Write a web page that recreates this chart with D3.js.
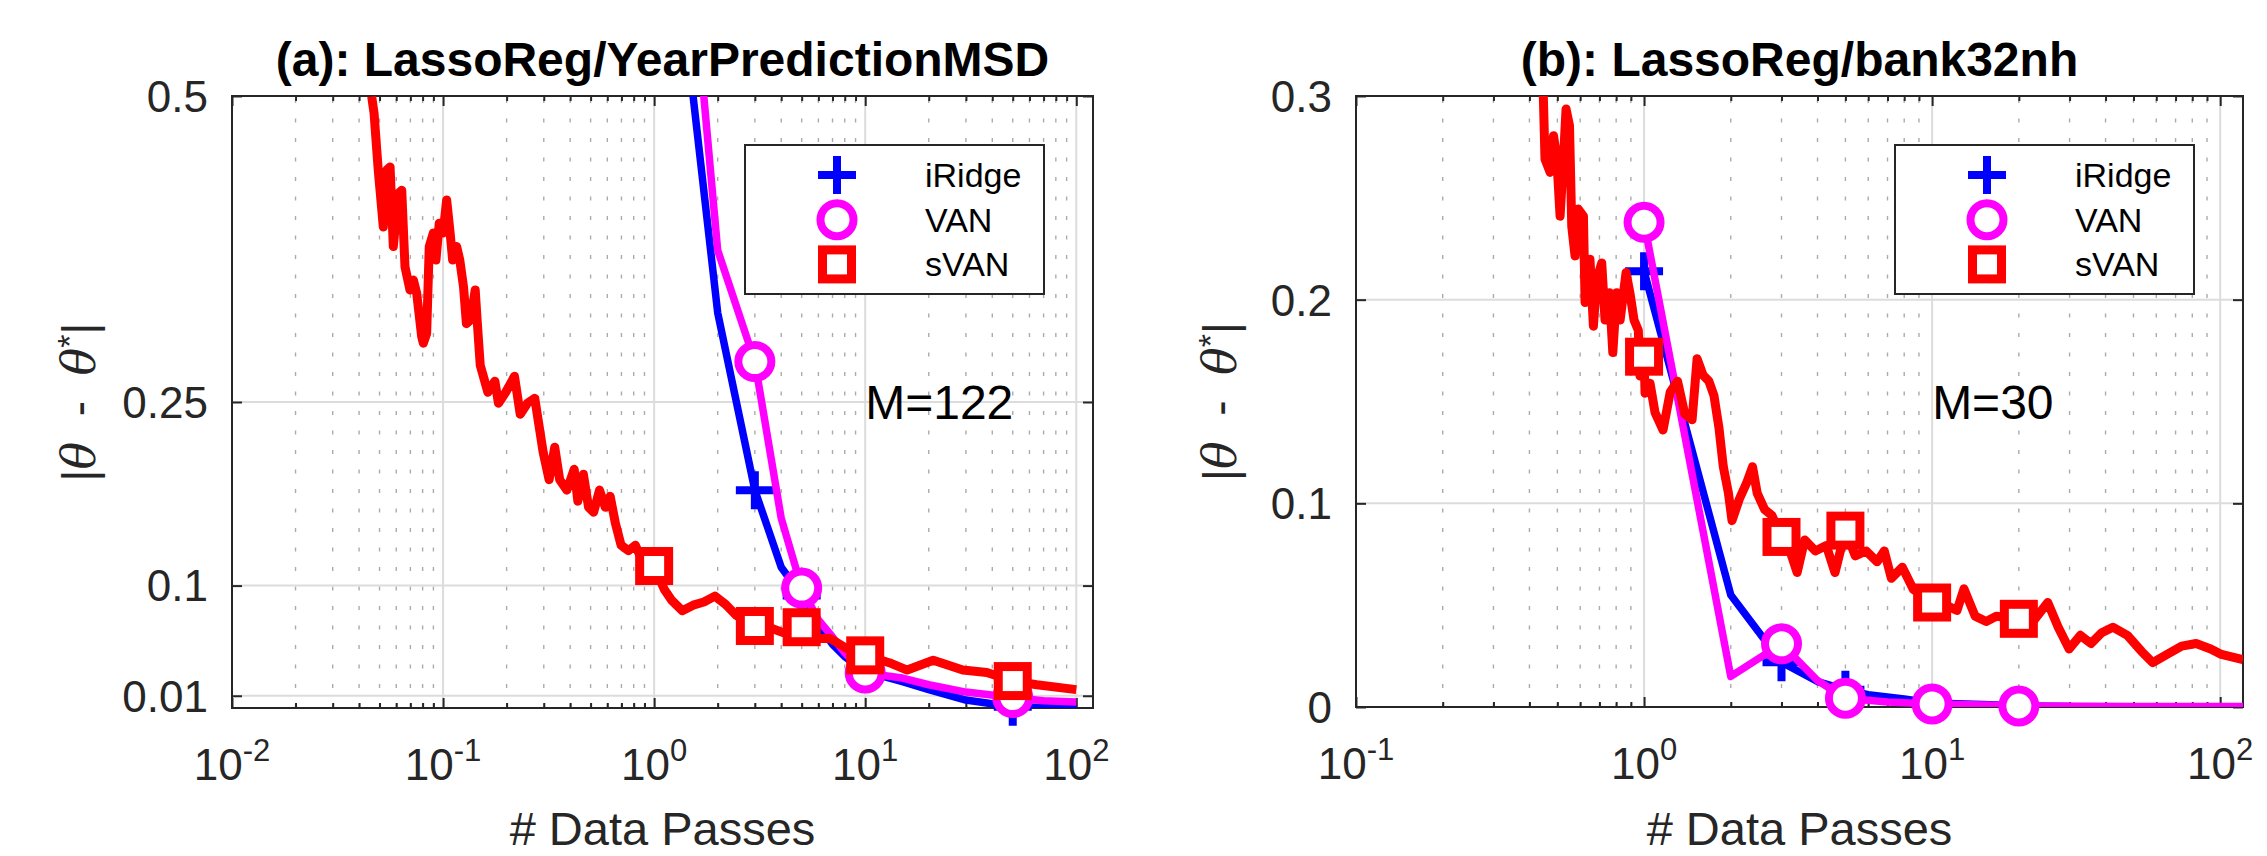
<!DOCTYPE html>
<html>
<head>
<meta charset="utf-8">
<script src="https://cdn.jsdelivr.net/npm/d3@7"></script>
<style>
  body { margin: 0; background: #fff; }
  text { font-family: "Liberation Sans", Arial, Helvetica, sans-serif; }
</style>
</head>
<body>
<script>
// ---------- data: (a) LassoReg/YearPredictionMSD ----------
const passRidgeA = [1, 2, 3, 4, 5, 6, 7, 8, 10, 15, 20, 30, 50, 70, 100];
const errRidgeA  = [0.78, 0.323, 0.178, 0.115, 0.092, 0.068, 0.052, 0.042, 0.03, 0.0215, 0.015, 0.0065, 0.001, 0.0005, 0.0];
const passVanA = [1, 2, 3, 4, 5, 6, 7, 8, 10, 15, 20, 30, 50, 70, 100];
const errVanA  = [0.95, 0.374, 0.283, 0.155, 0.098, 0.072, 0.058, 0.045, 0.0286, 0.0245, 0.019, 0.013, 0.0085, 0.006, 0.005];
const passSvanA = [0.0459, 0.0471, 0.0485, 0.0493, 0.0521, 0.054, 0.0561, 0.0581, 0.0614, 0.0637,
  0.066, 0.0697, 0.0723, 0.075, 0.0792, 0.0806, 0.0836, 0.086, 0.0899, 0.0925,
  0.0959, 0.1, 0.104, 0.108, 0.111, 0.116, 0.12, 0.125, 0.129, 0.135,
  0.142, 0.145, 0.15, 0.163, 0.176, 0.183, 0.198, 0.218, 0.232, 0.251,
  0.272, 0.282, 0.298, 0.318, 0.338, 0.357, 0.386, 0.418, 0.435, 0.462,
  0.489, 0.517, 0.551, 0.587, 0.619, 0.655, 0.697, 0.755, 0.815, 0.882,
  1, 1.116, 1.21, 1.36, 1.53, 1.72, 1.94, 2.18, 2.45, 3,
  3.49, 4.08, 5, 5.82, 6.81, 8.28, 10, 13, 15.8, 21,
  29, 37.7, 50, 65, 100];
const errSvanA = [0.4995, 0.486, 0.456, 0.4395, 0.393, 0.4395, 0.442, 0.377, 0.4205, 0.423,
  0.3605, 0.3415, 0.3497, 0.3388, 0.3033, 0.298, 0.306, 0.377, 0.388, 0.366,
  0.396, 0.388, 0.415, 0.388, 0.366, 0.377, 0.366, 0.344, 0.314, 0.317,
  0.3415, 0.317, 0.28, 0.258, 0.267, 0.249, 0.258, 0.271, 0.24, 0.249,
  0.253, 0.2355, 0.209, 0.1865, 0.213, 0.1865, 0.178, 0.195, 0.169, 0.191,
  0.164, 0.16, 0.178, 0.164, 0.173, 0.151, 0.133, 0.1285, 0.133, 0.1196,
  0.116, 0.097, 0.088, 0.0795, 0.084, 0.0866, 0.0914, 0.0847, 0.0757, 0.067,
  0.066, 0.0616, 0.066, 0.0568, 0.0568, 0.048, 0.043, 0.037, 0.031, 0.039,
  0.031, 0.029, 0.022, 0.019, 0.015];
const markPassA = [1, 3, 5, 10, 50];

// ---------- data: (b) LassoReg/bank32nh ----------
const passRidgeB = [1, 2, 3, 4, 5, 6, 8, 10, 15, 20, 30];
const errRidgeB  = [0.214, 0.055, 0.022, 0.0125, 0.0085, 0.006, 0.004, 0.002, 0.0012, 0.0006, 0.0003];
const passVanB = [1, 2, 3, 4, 5, 7, 10, 15, 20, 50, 120];
const errVanB  = [0.238, 0.015, 0.031, 0.013, 0.0043, 0.0025, 0.0015, 0.001, 0.0005, 0.0003, 0.0002];
const passSvanB = [0.447, 0.453, 0.472, 0.485, 0.498, 0.511, 0.525, 0.536, 0.551, 0.561,
  0.576, 0.591, 0.616, 0.624, 0.649, 0.667, 0.685, 0.713, 0.732, 0.758,
  0.779, 0.803, 0.826, 0.866, 0.893, 0.923, 0.955, 0.968, 1, 1.008,
  1.049, 1.092, 1.164, 1.233, 1.307, 1.384, 1.468, 1.528, 1.602, 1.679,
  1.748, 1.82, 1.884, 1.963, 2.02, 2.14, 2.27, 2.38, 2.47, 2.62,
  2.78, 3, 3.21, 3.4, 3.61, 3.93, 4.29, 4.6, 5, 5.41,
  5.9, 6.44, 6.82, 7.22, 7.88, 8.6, 10, 11.17, 12.2, 12.9,
  14.1, 15.4, 16.7, 20, 22.4, 25.2, 27.4, 29.9, 32.7, 35.6,
  38.8, 42.4, 47.6, 53.4, 58.3, 65.4, 73.5, 82.5, 92.7, 101,
  120];
const errSvanB = [0.3, 0.269, 0.2625, 0.2805, 0.269, 0.241, 0.269, 0.2936, 0.2854, 0.236,
  0.2215, 0.2445, 0.241, 0.1986, 0.2199, 0.187, 0.21, 0.218, 0.19, 0.2034,
  0.174, 0.2034, 0.19, 0.2133, 0.2034, 0.19, 0.185, 0.1625, 0.172, 0.154,
  0.159, 0.1445, 0.136, 0.1547, 0.16, 0.144, 0.141, 0.171, 0.163, 0.16,
  0.153, 0.137, 0.118, 0.105, 0.0915, 0.102, 0.11, 0.118, 0.105, 0.097,
  0.094, 0.0835, 0.0767, 0.066, 0.082, 0.0766, 0.0793, 0.066, 0.0866, 0.0742,
  0.0766, 0.0713, 0.0766, 0.0632, 0.0686, 0.0578, 0.0513, 0.05, 0.0474, 0.058,
  0.0446, 0.042, 0.0446, 0.0433, 0.042, 0.0513, 0.0392, 0.0285, 0.0352, 0.0312,
  0.0365, 0.0392, 0.0352, 0.0272, 0.0218, 0.0258, 0.0299, 0.0312, 0.0285, 0.0258,
  0.0232];
const markPassB = [1, 3, 5, 10, 20];

// ---------- labels / ticks ----------
const seriesNames = ["iRidge", "VAN", "sVAN"];
const seriesColors = ["#0000ff", "#ff00ff", "#ff0000"];
const seriesMarkers = ["plus", "circle", "square"];
const seriesWidths = [7.5, 7.5, 9];
const titleA = "(a): LassoReg/YearPredictionMSD";
const titleB = "(b): LassoReg/bank32nh";
const yTicksA = [0.01, 0.1, 0.25, 0.5];
const yTickLabelsA = ["0.01", "0.1", "0.25", "0.5"];
const yTicksB = [0, 0.1, 0.2, 0.3];
const yTickLabelsB = ["0", "0.1", "0.2", "0.3"];
const xExpA = [-2, -1, 0, 1, 2];
const xExpB = [-1, 0, 1, 2];
const noteA = { pass: 10, err: 0.25, text: "M=122" };
const noteB = { pass: 10, err: 0.15, text: "M=30" };

const width = 2267;
const height = 856;
const axisCol = "#262626";

const svg = d3.select("body").append("svg")
    .attr("width", width)
    .attr("height", height);
svg.append("rect").attr("width", width).attr("height", height).attr("fill", "#fff");

// marker drawer, centre at (0,0)
function marker(g, kind, color) {
    if (kind === "plus") {
        g.append("path").attr("d", "M-19,0H19M0,-19V19")
            .attr("stroke", color).attr("stroke-width", 8).attr("fill", "none");
    } else if (kind === "circle") {
        g.append("circle").attr("r", 16.5)
            .attr("stroke", color).attr("stroke-width", 8).attr("fill", "#fff");
    } else {
        g.append("rect").attr("x", -14.5).attr("y", -14.5).attr("width", 29).attr("height", 29)
            .attr("stroke", color).attr("stroke-width", 9).attr("fill", "#fff");
    }
}

function drawPanel(cfg) {
    const g = svg.append("g");
    const x = d3.scaleLog().domain(cfg.xDomain).range([cfg.left, cfg.right]);
    const y = d3.scaleLinear().domain(cfg.yDomain).range([cfg.bottom, cfg.top]);

    // decades and minor positions
    const majors = [], minors = [];
    const d0 = Math.floor(Math.log10(cfg.xDomain[0])), d1 = Math.ceil(Math.log10(cfg.xDomain[1]));
    for (let d = d0; d <= d1; d++) {
        const base = Math.pow(10, d);
        if (base >= cfg.xDomain[0] && base <= cfg.xDomain[1]) majors.push(base);
        for (let k = 2; k <= 9; k++) {
            const v = k * base;
            if (v > cfg.xDomain[0] && v < cfg.xDomain[1]) minors.push(v);
        }
    }

    // grid
    g.selectAll(".minor").data(minors).enter().append("line")
        .attr("x1", d => x(d)).attr("x2", d => x(d))
        .attr("y1", cfg.top).attr("y2", cfg.bottom)
        .attr("stroke", "#ababab").attr("stroke-width", 1.4)
        .attr("stroke-dasharray", "4,15.5").attr("stroke-dashoffset", -3);
    g.selectAll(".vmaj").data(majors.filter(d => x(d) > cfg.left + 1 && x(d) < cfg.right - 1))
        .enter().append("line")
        .attr("x1", d => x(d)).attr("x2", d => x(d))
        .attr("y1", cfg.top).attr("y2", cfg.bottom)
        .attr("stroke", "#dcdcdc").attr("stroke-width", 2);
    g.selectAll(".hmaj").data(cfg.yTicks.filter(d => y(d) > cfg.top + 1 && y(d) < cfg.bottom - 1))
        .enter().append("line")
        .attr("x1", cfg.left).attr("x2", cfg.right)
        .attr("y1", d => y(d)).attr("y2", d => y(d))
        .attr("stroke", "#dcdcdc").attr("stroke-width", 2);

    // ticks (inward) via d3 axes
    const styleAxis = sel => {
        sel.select(".domain").remove();
        sel.selectAll("line").attr("stroke", axisCol).attr("stroke-width", 2);
        sel.selectAll("text").remove();
    };
    g.append("g").attr("transform", `translate(0,${cfg.bottom})`)
        .call(d3.axisBottom(x).tickValues(majors).tickSize(-10).tickFormat("")).call(styleAxis);
    g.append("g").attr("transform", `translate(0,${cfg.bottom})`)
        .call(d3.axisBottom(x).tickValues(minors).tickSize(-5).tickFormat("")).call(styleAxis);
    g.append("g").attr("transform", `translate(0,${cfg.top})`)
        .call(d3.axisTop(x).tickValues(majors).tickSize(-10).tickFormat("")).call(styleAxis);
    g.append("g").attr("transform", `translate(0,${cfg.top})`)
        .call(d3.axisTop(x).tickValues(minors).tickSize(-5).tickFormat("")).call(styleAxis);
    g.append("g").attr("transform", `translate(${cfg.left},0)`)
        .call(d3.axisLeft(y).tickValues(cfg.yTicks).tickSize(-10).tickFormat("")).call(styleAxis);
    g.append("g").attr("transform", `translate(${cfg.right},0)`)
        .call(d3.axisRight(y).tickValues(cfg.yTicks).tickSize(-10).tickFormat("")).call(styleAxis);

    // box
    g.append("rect")
        .attr("x", cfg.left).attr("y", cfg.top)
        .attr("width", cfg.right - cfg.left).attr("height", cfg.bottom - cfg.top)
        .attr("fill", "none").attr("stroke", axisCol).attr("stroke-width", 2);

    // tick labels
    const xl = g.selectAll(".xl").data(cfg.xExp).enter().append("text")
        .attr("x", d => x(Math.pow(10, d)))
        .attr("y", cfg.bottom + 72)
        .attr("text-anchor", "middle")
        .attr("fill", axisCol)
        .attr("font-size", 44);
    xl.append("tspan").text("10");
    xl.append("tspan").attr("dy", -19).attr("font-size", 31).text(d => d);

    g.selectAll(".yl").data(cfg.yTicks).enter().append("text")
        .attr("x", cfg.left - 24)
        .attr("y", d => y(d))
        .attr("dy", "0.36em")
        .attr("text-anchor", "end")
        .attr("fill", axisCol)
        .attr("font-size", 44)
        .text((d, i) => cfg.yTickLabels[i]);

    // axis labels + title
    g.append("text")
        .attr("x", (cfg.left + cfg.right) / 2).attr("y", 845)
        .attr("text-anchor", "middle").attr("fill", axisCol).attr("font-size", 47)
        .text("# Data Passes");
    const yl = g.append("text")
        .attr("transform", `translate(${cfg.ylabelX},${(cfg.top + cfg.bottom) / 2}) rotate(-90)`)
        .attr("text-anchor", "middle").attr("fill", axisCol).attr("font-size", 46)
        .attr("xml:space", "preserve");
    yl.append("tspan").text("|");
    yl.append("tspan").attr("font-style", "italic").attr("font-family", "'DejaVu Serif', serif").text("θ");
    yl.append("tspan").text("  -  ");
    yl.append("tspan").attr("font-style", "italic").attr("font-family", "'DejaVu Serif', serif").text("θ");
    yl.append("tspan").attr("dy", -14).attr("font-size", 34).text("*");
    yl.append("tspan").attr("dy", 14).text("|");

    g.append("text")
        .attr("x", (cfg.left + cfg.right) / 2).attr("y", 76)
        .attr("text-anchor", "middle").attr("fill", "#000")
        .attr("font-size", 48).attr("font-weight", "bold")
        .text(cfg.title);

    // data
    const clipId = "clip" + cfg.id;
    svg.append("clipPath").attr("id", clipId).append("rect")
        .attr("x", cfg.left).attr("y", cfg.top)
        .attr("width", cfg.right - cfg.left).attr("height", cfg.bottom - cfg.top);

    const line = d3.line().x(d => x(d[0])).y(d => y(d[1]));
    cfg.series.forEach((s, si) => {
        const pts = s.pass.map((p, i) => [p, s.err[i]]);
        g.append("path")
            .attr("d", line(pts))
            .attr("clip-path", `url(#${clipId})`)
            .attr("fill", "none")
            .attr("stroke", seriesColors[si])
            .attr("stroke-width", seriesWidths[si])
            .attr("stroke-linejoin", "round");
        const marks = pts.filter(p => cfg.marks.includes(p[0]) &&
            p[1] >= cfg.yDomain[0] && p[1] <= cfg.yDomain[1]);
        marks.forEach(p => {
            const mg = g.append("g").attr("transform", `translate(${x(p[0])},${y(p[1])})`);
            marker(mg, seriesMarkers[si], seriesColors[si]);
        });
    });

    // annotation
    g.append("text")
        .attr("x", x(cfg.note.pass)).attr("y", y(cfg.note.err))
        .attr("dy", "0.36em")
        .attr("fill", "#000").attr("font-size", 48)
        .text(cfg.note.text);

    // legend
    const lx = cfg.right - 348, ly = cfg.top + 49;
    const lg = g.append("g").attr("transform", `translate(${lx},${ly})`);
    lg.append("rect").attr("width", 299).attr("height", 149)
        .attr("fill", "#fff").attr("stroke", axisCol).attr("stroke-width", 2);
    seriesNames.forEach((name, i) => {
        const cy = 30 + i * 44.7;
        marker(lg.append("g").attr("transform", `translate(92,${cy})`), seriesMarkers[i], seriesColors[i]);
        lg.append("text").attr("x", 180).attr("y", cy + 12)
            .attr("fill", "#000").attr("font-size", 34).text(name);
    });
}

drawPanel({
    id: "a", left: 232, right: 1093, top: 96, bottom: 708,
    xDomain: [0.01, 120], yDomain: [0, 0.5],
    yTicks: yTicksA, yTickLabels: yTickLabelsA, xExp: xExpA,
    title: titleA, ylabelX: 95, note: noteA, marks: markPassA,
    series: [
        { pass: passRidgeA, err: errRidgeA },
        { pass: passVanA, err: errVanA },
        { pass: passSvanA, err: errSvanA }
    ]
});

drawPanel({
    id: "b", left: 1356, right: 2243, top: 96, bottom: 707,
    xDomain: [0.1, 120], yDomain: [0, 0.3],
    yTicks: yTicksB, yTickLabels: yTickLabelsB, xExp: xExpB,
    title: titleB, ylabelX: 1236, note: noteB, marks: markPassB,
    series: [
        { pass: passRidgeB, err: errRidgeB },
        { pass: passVanB, err: errVanB },
        { pass: passSvanB, err: errSvanB }
    ]
});
</script>
</body>
</html>
